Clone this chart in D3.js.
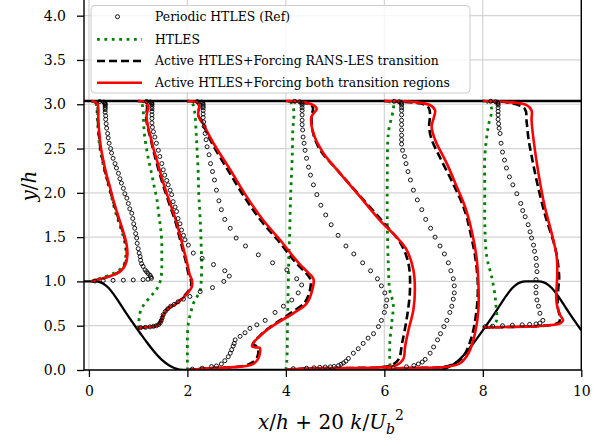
<!DOCTYPE html>
<html><head><meta charset="utf-8">
<script src="https://cdn.jsdelivr.net/npm/d3@7"></script>
<style>body{margin:0;background:#fff}svg{display:block}</style>
</head><body><svg id="c" width="613" height="446"></svg>
<script>
// ---------------- data ----------------
const stations = [0.05, 1, 2, 4, 6, 8];
const xTicks = [0, 2, 4, 6, 8, 10];
const yTicks = [0, 0.5, 1, 1.5, 2, 2.5, 3, 3.5, 4];
const xLimits = [-0.1, 10];
const seriesLabels = ["Periodic HTLES (Ref)", "HTLES", "Active HTLES+Forcing RANS-LES transition", "Active HTLES+Forcing both transition regions"];
const topWallY = 3.036;
const hillX = [-0.1,0,0.125,0.25,0.32,0.4,0.5,0.625,0.75,0.875,1.0,1.07,1.125,1.25,1.375,1.43,1.5,1.625,1.75,1.93,7.07,7.25,7.375,7.5,7.57,7.625,7.75,7.875,8.0,8.125,8.25,8.375,8.5,8.6,8.68,8.75,8.875,9.0,9.125,9.25,9.32,9.4,9.5,9.625,9.75,9.875,10.0];
const hillY = [1.0,1.0,0.9997,0.986,0.964,0.925,0.857,0.755,0.648,0.546,0.448,0.393,0.352,0.259,0.175,0.143,0.105,0.053,0.018,0.0,0.0,0.018,0.053,0.105,0.143,0.175,0.259,0.352,0.448,0.546,0.648,0.755,0.857,0.925,0.964,0.986,0.9997,1.0,0.9997,0.986,0.964,0.925,0.857,0.755,0.648,0.546,0.448];

// each profile: [x/h + 20 k/Ub^2, y/h]
const refPeriodic = [
 [[0.12,1.005],[0.29,1.01],[0.49,1.012],[0.70,1.014],[0.90,1.016],[1.10,1.02],[1.20,1.025],[1.27,1.035],[1.26,1.05],[1.24,1.07],[1.20,1.09],[1.17,1.11],[1.14,1.13],[1.10,1.17],[1.07,1.20],[1.05,1.24],[1.04,1.28],[1.02,1.32],[1.0,1.37],[0.98,1.43],[0.97,1.49],[0.95,1.54],[0.93,1.60],[0.91,1.65],[0.89,1.71],[0.87,1.77],[0.83,1.82],[0.80,1.88],[0.77,1.94],[0.73,1.99],[0.70,2.05],[0.66,2.11],[0.63,2.16],[0.60,2.22],[0.56,2.28],[0.53,2.33],[0.49,2.39],[0.46,2.45],[0.44,2.50],[0.41,2.56],[0.39,2.62],[0.38,2.67],[0.36,2.73],[0.35,2.78],[0.34,2.83],[0.34,2.87],[0.33,2.91],[0.33,2.94],[0.33,2.96],[0.33,2.98],[0.33,2.995],[0.33,3.007],[0.32,3.017],[0.30,3.025],[0.22,3.031]],
 [[1.05,0.478],[1.15,0.482],[1.24,0.487],[1.31,0.493],[1.37,0.50],[1.42,0.515],[1.45,0.535],[1.47,0.56],[1.49,0.59],[1.51,0.625],[1.55,0.66],[1.60,0.69],[1.66,0.72],[1.73,0.74],[1.81,0.77],[1.92,0.80],[2.05,0.83],[2.26,0.885],[2.51,0.93],[2.74,1.00],[2.85,1.06],[2.76,1.12],[2.53,1.19],[2.30,1.26],[2.12,1.32],[2.02,1.41],[1.95,1.47],[1.92,1.52],[1.88,1.58],[1.85,1.65],[1.81,1.71],[1.78,1.79],[1.75,1.84],[1.71,1.90],[1.68,1.98],[1.65,2.03],[1.61,2.09],[1.58,2.14],[1.54,2.20],[1.51,2.26],[1.48,2.33],[1.44,2.41],[1.41,2.48],[1.37,2.56],[1.34,2.63],[1.31,2.69],[1.29,2.74],[1.28,2.79],[1.28,2.84],[1.28,2.88],[1.28,2.92],[1.28,2.95],[1.28,2.975],[1.28,2.995],[1.28,3.008],[1.27,3.018],[1.25,3.026],[1.17,3.032]],
 [[2.10,0.01],[2.30,0.02],[2.49,0.039],[2.59,0.046],[2.69,0.068],[2.76,0.105],[2.83,0.15],[2.87,0.19],[2.90,0.23],[2.93,0.27],[2.95,0.30],[2.97,0.34],[3.07,0.38],[3.17,0.42],[3.27,0.47],[3.41,0.51],[3.58,0.56],[3.78,0.65],[3.95,0.72],[4.12,0.79],[4.25,0.87],[4.32,0.96],[4.22,1.03],[4.02,1.13],[3.73,1.21],[3.44,1.30],[3.18,1.40],[2.99,1.49],[2.87,1.60],[2.76,1.70],[2.69,1.81],[2.64,1.91],[2.59,2.03],[2.55,2.145],[2.51,2.24],[2.47,2.33],[2.44,2.43],[2.40,2.52],[2.38,2.60],[2.36,2.67],[2.34,2.75],[2.33,2.80],[2.32,2.85],[2.32,2.89],[2.32,2.93],[2.32,2.96],[2.32,2.98],[2.32,3.0],[2.31,3.013],[2.29,3.024],[2.2,3.031]],
 [[4.15,0.015],[4.42,0.02],[4.57,0.025],[4.69,0.03],[4.80,0.033],[4.90,0.036],[4.98,0.04],[5.07,0.05],[5.12,0.065],[5.17,0.08],[5.22,0.10],[5.27,0.13],[5.37,0.19],[5.47,0.24],[5.57,0.30],[5.67,0.36],[5.78,0.41],[5.88,0.49],[5.94,0.56],[6.00,0.65],[6.03,0.72],[6.05,0.79],[6.01,0.87],[5.94,0.95],[5.86,1.03],[5.72,1.12],[5.56,1.21],[5.38,1.31],[5.22,1.40],[5.06,1.52],[4.92,1.64],[4.81,1.75],[4.71,1.86],[4.63,1.98],[4.56,2.09],[4.50,2.20],[4.46,2.29],[4.42,2.39],[4.39,2.48],[4.37,2.56],[4.35,2.63],[4.34,2.71],[4.33,2.77],[4.33,2.82],[4.33,2.88],[4.33,2.93],[4.33,2.96],[4.33,2.99],[4.33,3.008],[4.32,3.02],[4.28,3.028],[4.18,3.033]],
 [[6.18,0.025],[6.45,0.036],[6.60,0.05],[6.69,0.068],[6.77,0.09],[6.83,0.12],[6.93,0.19],[7.0,0.26],[7.08,0.34],[7.14,0.41],[7.21,0.49],[7.27,0.56],[7.33,0.65],[7.37,0.72],[7.40,0.80],[7.42,0.87],[7.42,0.95],[7.40,1.03],[7.35,1.12],[7.30,1.21],[7.22,1.31],[7.13,1.40],[7.03,1.50],[6.94,1.60],[6.84,1.70],[6.76,1.81],[6.67,1.92],[6.59,2.03],[6.53,2.145],[6.48,2.24],[6.44,2.33],[6.41,2.41],[6.37,2.48],[6.35,2.55],[6.35,2.60],[6.35,2.65],[6.35,2.71],[6.35,2.77],[6.35,2.82],[6.35,2.88],[6.35,2.93],[6.35,2.96],[6.35,2.99],[6.35,3.008],[6.34,3.02],[6.30,3.028],[6.2,3.033]],
 [[8.05,0.49],[8.2,0.495],[8.4,0.50],[8.6,0.505],[8.8,0.51],[8.95,0.515],[9.08,0.52],[9.16,0.53],[9.22,0.56],[9.16,0.64],[9.13,0.72],[9.10,0.79],[9.08,0.87],[9.08,0.94],[9.08,1.02],[9.10,1.11],[9.09,1.18],[9.08,1.26],[9.05,1.34],[9.03,1.41],[8.99,1.49],[8.96,1.56],[8.92,1.64],[8.86,1.73],[8.81,1.80],[8.77,1.88],[8.69,1.99],[8.61,2.09],[8.54,2.18],[8.48,2.28],[8.44,2.37],[8.40,2.46],[8.37,2.56],[8.35,2.67],[8.33,2.73],[8.32,2.78],[8.31,2.83],[8.31,2.88],[8.31,2.92],[8.31,2.96],[8.31,2.99],[8.31,3.008],[8.30,3.02],[8.26,3.028],[8.16,3.033]]
];
const htles = [
 [[0.05,1.0],[0.25,1.04],[0.45,1.08],[0.62,1.13],[0.72,1.20],[0.75,1.30],[0.74,1.40],[0.69,1.52],[0.61,1.66],[0.53,1.80],[0.46,1.95],[0.40,2.08],[0.33,2.22],[0.27,2.37],[0.22,2.52],[0.19,2.68],[0.17,2.85],[0.16,2.95],[0.14,3.01],[0.05,3.036]],
 [[1.0,0.47],[1.01,0.52],[1.02,0.58],[1.05,0.67],[1.12,0.74],[1.22,0.81],[1.30,0.86],[1.36,0.90],[1.42,0.96],[1.46,1.03],[1.48,1.15],[1.48,1.30],[1.48,1.44],[1.46,1.58],[1.44,1.67],[1.41,1.80],[1.38,1.93],[1.33,2.06],[1.28,2.20],[1.22,2.35],[1.17,2.50],[1.13,2.65],[1.11,2.80],[1.10,2.95],[1.06,3.02],[1.0,3.036]],
 [[2.0,0.0],[2.0,0.15],[2.0,0.35],[2.02,0.53],[2.07,0.65],[2.12,0.75],[2.20,0.83],[2.26,0.90],[2.28,1.0],[2.29,1.2],[2.28,1.4],[2.27,1.58],[2.25,1.8],[2.23,2.0],[2.22,2.22],[2.20,2.45],[2.18,2.65],[2.15,2.90],[2.1,3.01],[2.0,3.036]],
 [[4.0,0.0],[4.02,0.1],[4.03,0.4],[4.04,0.73],[4.05,1.0],[4.06,1.29],[4.08,1.6],[4.09,1.86],[4.11,2.15],[4.13,2.42],[4.14,2.7],[4.16,2.93],[4.1,3.02],[4.0,3.036]],
 [[6.0,0.0],[6.11,0.03],[6.11,0.09],[6.11,0.30],[6.15,0.53],[6.18,0.75],[6.11,0.90],[6.08,1.20],[6.06,1.66],[6.06,2.22],[6.08,2.67],[6.18,3.0],[6.1,3.03],[6.0,3.036]],
 [[8.0,0.48],[8.2,0.50],[8.28,0.56],[8.27,0.70],[8.25,0.83],[8.18,1.05],[8.08,1.28],[8.04,1.66],[8.04,2.03],[8.04,2.41],[8.11,2.75],[8.18,2.95],[8.1,3.02],[8.0,3.036]]
];
const activeRansLes = [
 [[0.05,1.0],[0.25,1.03],[0.43,1.06],[0.59,1.10],[0.69,1.15],[0.75,1.22],[0.77,1.30],[0.76,1.40],[0.71,1.52],[0.63,1.66],[0.55,1.80],[0.47,1.95],[0.41,2.08],[0.34,2.22],[0.28,2.37],[0.23,2.52],[0.20,2.68],[0.18,2.85],[0.18,2.95],[0.16,3.01],[0.05,3.036]],
 [[1.0,0.475],[1.18,0.485],[1.39,0.505],[1.46,0.56],[1.52,0.64],[1.61,0.70],[1.77,0.75],[1.96,0.85],[2.07,0.94],[2.07,1.02],[2.03,1.07],[1.97,1.22],[1.90,1.37],[1.83,1.52],[1.76,1.67],[1.68,1.80],[1.60,1.93],[1.51,2.08],[1.43,2.23],[1.36,2.37],[1.30,2.50],[1.24,2.64],[1.19,2.75],[1.16,2.86],[1.18,2.97],[1.14,3.02],[1.0,3.036]],
 [[2.0,0.0],[2.4,0.02],[2.85,0.03],[3.18,0.05],[3.33,0.09],[3.42,0.15],[3.44,0.22],[3.40,0.27],[3.33,0.29],[3.37,0.33],[3.46,0.38],[3.62,0.46],[3.88,0.56],[4.12,0.65],[4.38,0.76],[4.48,0.88],[4.50,1.02],[4.40,1.10],[4.24,1.19],[4.10,1.28],[3.83,1.47],[3.49,1.69],[3.15,1.96],[2.82,2.26],[2.50,2.56],[2.31,2.78],[2.22,2.88],[2.24,2.98],[2.2,3.02],[2.0,3.036]],
 [[4.0,0.0],[4.5,0.02],[5.9,0.03],[6.13,0.05],[6.29,0.12],[6.36,0.30],[6.46,0.60],[6.52,0.90],[6.49,1.20],[6.33,1.43],[5.99,1.66],[5.45,2.0],[5.04,2.26],[4.70,2.48],[4.56,2.66],[4.52,2.86],[4.55,2.96],[4.48,3.0],[4.0,3.036]],
 [[6.0,0.0],[6.3,0.02],[7.2,0.035],[7.45,0.08],[7.59,0.14],[7.76,0.35],[7.86,0.62],[7.90,0.92],[7.86,1.22],[7.76,1.52],[7.62,1.82],[7.39,2.11],[7.12,2.41],[6.95,2.62],[6.91,2.76],[6.93,2.88],[6.90,2.96],[6.8,3.0],[6.0,3.036]],
 [[8.0,0.48],[8.5,0.485],[9.1,0.495],[9.4,0.51],[9.55,0.54],[9.56,0.60],[9.52,0.72],[9.53,0.90],[9.55,1.05],[9.50,1.30],[9.44,1.44],[9.27,1.74],[9.10,2.12],[8.99,2.42],[8.93,2.60],[8.89,2.80],[8.85,2.95],[8.5,3.02],[8.0,3.036]]
];
const activeBoth = [
 [[0.05,1.0],[0.25,1.03],[0.43,1.06],[0.60,1.10],[0.70,1.15],[0.76,1.22],[0.78,1.30],[0.77,1.40],[0.72,1.52],[0.64,1.66],[0.56,1.80],[0.48,1.95],[0.42,2.08],[0.35,2.22],[0.29,2.37],[0.24,2.52],[0.21,2.68],[0.19,2.85],[0.19,2.95],[0.17,3.01],[0.10,3.03],[0.05,3.036]],
 [[1.0,0.475],[1.18,0.485],[1.40,0.505],[1.47,0.56],[1.53,0.64],[1.62,0.70],[1.78,0.75],[1.98,0.85],[2.09,0.94],[2.09,1.02],[2.05,1.07],[1.99,1.22],[1.92,1.37],[1.85,1.52],[1.78,1.67],[1.70,1.80],[1.62,1.93],[1.53,2.08],[1.45,2.23],[1.38,2.37],[1.31,2.50],[1.25,2.64],[1.20,2.75],[1.17,2.86],[1.20,2.97],[1.16,3.02],[1.0,3.036]],
 [[2.0,0.0],[2.4,0.02],[2.87,0.03],[3.2,0.045],[3.34,0.07],[3.43,0.12],[3.47,0.18],[3.47,0.25],[3.38,0.255],[3.31,0.27],[3.36,0.32],[3.45,0.37],[3.61,0.45],[3.88,0.55],[4.15,0.64],[4.42,0.75],[4.52,0.87],[4.56,1.03],[4.45,1.10],[4.29,1.19],[4.15,1.28],[3.88,1.47],[3.54,1.69],[3.20,1.96],[2.87,2.26],[2.53,2.56],[2.32,2.78],[2.22,2.88],[2.24,2.98],[2.2,3.02],[2.0,3.036]],
 [[4.0,0.0],[4.15,0.01],[4.57,0.02],[5.91,0.03],[6.25,0.055],[6.39,0.13],[6.42,0.26],[6.49,0.45],[6.59,0.68],[6.62,0.90],[6.59,1.13],[6.45,1.36],[6.25,1.50],[5.91,1.69],[5.50,1.96],[5.10,2.22],[4.76,2.45],[4.56,2.67],[4.52,2.86],[4.63,2.95],[4.56,2.99],[4.3,3.03],[4.0,3.036]],
 [[6.0,0.0],[6.3,0.02],[7.27,0.036],[7.54,0.076],[7.71,0.19],[7.84,0.41],[7.91,0.68],[7.91,0.98],[7.87,1.28],[7.77,1.58],[7.64,1.84],[7.47,2.07],[7.27,2.33],[7.03,2.60],[6.96,2.75],[7.0,2.84],[7.03,2.93],[6.93,2.99],[6.6,3.025],[6.0,3.036]],
 [[8.0,0.48],[8.5,0.485],[9.1,0.495],[9.45,0.51],[9.58,0.53],[9.63,0.56],[9.57,0.62],[9.51,0.72],[9.49,0.83],[9.51,1.05],[9.50,1.28],[9.40,1.54],[9.26,1.84],[9.13,2.22],[9.03,2.60],[8.99,2.82],[8.99,2.93],[8.89,2.99],[8.5,3.025],[8.0,3.036]]
];

// ---------------- drawing ----------------
const FONT = 'DejaVu Serif';
const svg = d3.select('#c');
const L = 84, R = 581.3, B = 370, T = 0;
const x = d3.scaleLinear().domain(xLimits).range([L, R]);
const y = d3.scaleLinear().domain([0, 4]).range([B, 15.68]);

svg.append('defs').append('clipPath').attr('id','clip')
  .append('rect').attr('x',L).attr('y',T).attr('width',R-L).attr('height',B-T);

// grid
const grid = svg.append('g').attr('stroke','#d4d4d4').attr('stroke-width',1.2);
grid.selectAll('.gx').data(xTicks).join('line')
  .attr('x1',d=>x(d)).attr('x2',d=>x(d)).attr('y1',T).attr('y2',B);
grid.selectAll('.gy').data(yTicks).join('line')
  .attr('x1',L).attr('x2',R).attr('y1',d=>y(d)).attr('y2',d=>y(d));

const plot = svg.append('g').attr('clip-path','url(#clip)');

// walls
const hill = hillX.map((v,i)=>[v, hillY[i]]);
plot.append('path').datum(hill)
  .attr('d', d3.line().x(d=>x(d[0])).y(d=>y(d[1])).curve(d3.curveMonotoneX))
  .attr('fill','none').attr('stroke','#000').attr('stroke-width',2.3);
plot.append('line').attr('x1',x(xLimits[0])).attr('x2',x(xLimits[1]))
  .attr('y1',y(topWallY)).attr('y2',y(topWallY))
  .attr('stroke','#000').attr('stroke-width',2.6);

const line = d3.line().x(d=>x(d[0])).y(d=>y(d[1])).curve(d3.curveCatmullRom.alpha(0.5));

plot.append('g').selectAll('path').data(htles).join('path')
  .attr('d', line).attr('fill','none').attr('stroke','#008000')
  .attr('stroke-width',2.8).attr('stroke-dasharray','2.8,4.6');
plot.append('g').selectAll('path').data(activeRansLes).join('path')
  .attr('d', line).attr('fill','none').attr('stroke','#000')
  .attr('stroke-width',2.6).attr('stroke-dasharray','8,4');
plot.append('g').selectAll('path').data(activeBoth).join('path')
  .attr('d', line).attr('fill','none').attr('stroke','#ff0000')
  .attr('stroke-width',2.6).attr('stroke-linejoin','round');
plot.append('g').selectAll('g').data(refPeriodic).join('g')
  .selectAll('circle').data(d=>d).join('circle')
  .attr('cx',d=>x(d[0])).attr('cy',d=>y(d[1])).attr('r',2.0)
  .attr('fill','none').attr('stroke','#000').attr('stroke-width',0.9);

// axes
const xAxis = svg.append('g').attr('transform',`translate(0,${B})`)
  .call(d3.axisBottom(x).tickValues(xTicks).tickFormat(d3.format('d')).tickSize(7).tickPadding(9));
const yAxis = svg.append('g').attr('transform',`translate(${L},0)`)
  .call(d3.axisLeft(y).tickValues(yTicks).tickFormat(d3.format('.1f')).tickSize(7).tickPadding(11));
[xAxis,yAxis].forEach(a=>{
  a.attr('font-family',FONT).attr('font-size',14);
  a.select('.domain').remove();
  a.selectAll('line').attr('stroke','#000').attr('stroke-width',1.3);
  a.selectAll('text').attr('font-family',FONT).attr('font-size',14).attr('fill','#000');
});
// spines
const sp = svg.append('g').attr('stroke','#000').attr('stroke-width',1.4).attr('fill','none');
sp.append('path').attr('d',`M${L},${T}V${B}H${R}V${T}`);

// axis labels
const xl = svg.append('text').attr('x',331).attr('y',429).attr('text-anchor','middle')
  .attr('font-family',FONT).attr('font-size',20).attr('fill','#000');
xl.append('tspan').attr('font-style','italic').text('x');
xl.append('tspan').text('/');
xl.append('tspan').attr('font-style','italic').text('h');
xl.append('tspan').text(' + 20 ');
xl.append('tspan').attr('font-style','italic').text('k');
xl.append('tspan').text('/');
xl.append('tspan').attr('font-style','italic').text('U');
xl.append('tspan').attr('font-style','italic').attr('font-size',14).attr('dy',5).text('b');
xl.append('tspan').attr('font-size',14).attr('dy',-14).text('2');

const yl = svg.append('text').attr('transform','translate(36,186) rotate(-90)')
  .attr('text-anchor','middle').attr('font-family',FONT).attr('font-size',20).attr('fill','#000');
yl.append('tspan').attr('font-style','italic').text('y');
yl.append('tspan').text('/');
yl.append('tspan').attr('font-style','italic').text('h');

// legend
const lg = svg.append('g');
lg.append('rect').attr('x',91).attr('y',5.5).attr('width',379).attr('height',87.5).attr('rx',4)
  .attr('fill','#fff').attr('fill-opacity',0.8).attr('stroke','#cccccc').attr('stroke-width',1);
const rowsY = [16.7, 39.3, 61, 82.7];
const texts = lg.selectAll('text.l').data(seriesLabels).join('text').attr('class','l')
  .attr('x',155).attr('y',(d,i)=>rowsY[i]).attr('dy','0.35em')
  .attr('font-family',FONT).attr('font-size',14).attr('fill','#000').text(d=>d);
const w = texts.nodes()[3].getComputedTextLength();
texts.attr('font-size', 14*295/w);
lg.append('circle').attr('cx',117.5).attr('cy',rowsY[0]).attr('r',2.0)
  .attr('fill','none').attr('stroke','#000').attr('stroke-width',0.9);
lg.append('line').attr('x1',97).attr('x2',142).attr('y1',rowsY[1]).attr('y2',rowsY[1])
  .attr('stroke','#008000').attr('stroke-width',2.8).attr('stroke-dasharray','2.8,4.6');
lg.append('line').attr('x1',97).attr('x2',142).attr('y1',rowsY[2]).attr('y2',rowsY[2])
  .attr('stroke','#000').attr('stroke-width',2.6).attr('stroke-dasharray','8,4');
lg.append('line').attr('x1',97).attr('x2',142).attr('y1',rowsY[3]).attr('y2',rowsY[3])
  .attr('stroke','#ff0000').attr('stroke-width',2.6);
</script></body></html>
